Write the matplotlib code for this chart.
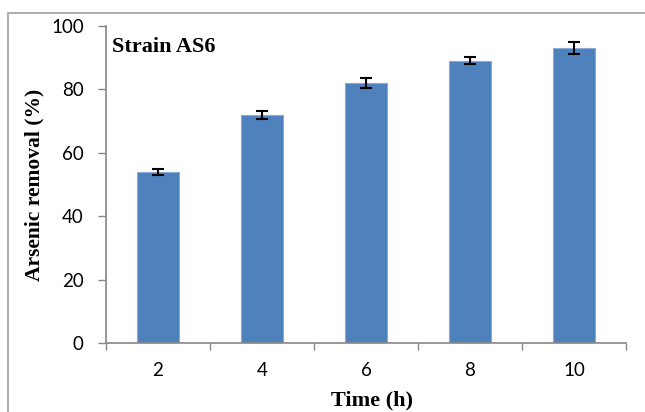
import matplotlib
matplotlib.use("Agg")
import matplotlib.pyplot as plt
from matplotlib.patches import Rectangle

categories = ["2", "4", "6", "8", "10"]
removal = [54, 72, 82, 89, 93]
errors = [1.0, 1.2, 1.5, 1.1, 1.8]
yticks = [0, 20, 40, 60, 80, 100]

fig = plt.figure(figsize=(6.45, 4.12), dpi=100)
ax = fig.add_axes([106/645, 1-343/412, (626-106)/645, (343-26)/412])

pos = list(range(len(categories)))
ax.bar(pos, removal, width=0.4, color="#4F81BD", edgecolor="#8AAAD6", linewidth=0.8, zorder=2)
ax.errorbar(pos, removal, yerr=errors, fmt="none", ecolor="black", elinewidth=1.5,
            capsize=4.5, capthick=1.5, zorder=3)

ax.set_xlim(-0.5, len(categories) - 0.5)
ax.set_ylim(0, 100)
ax.set_yticks(yticks)
ax.set_yticklabels([str(v) for v in yticks], fontfamily="Lato", fontsize=13.5)
ax.set_xticks(pos)
ax.set_xticklabels(categories, fontfamily="Lato", fontsize=13.5)
ax.set_xticks([p - 0.5 for p in pos] + [len(categories) - 0.5], minor=True)
ax.tick_params(axis="x", which="major", length=0, pad=14)
ax.tick_params(axis="x", which="minor", length=5, width=1, color="#868686")
ax.tick_params(axis="y", length=6, width=1, color="#868686", pad=10)

for s in ["top", "right"]:
    ax.spines[s].set_visible(False)
for s in ["left", "bottom"]:
    ax.spines[s].set_color("#868686")
    ax.spines[s].set_linewidth(1.2)

ax.set_ylabel("Arsenic removal (%)", fontfamily="Liberation Serif", fontweight="bold",
              fontsize=15.5, labelpad=5)
ax.set_xlabel("Time (h)", fontfamily="Liberation Serif", fontweight="bold",
              fontsize=16, labelpad=8)
ax.xaxis.label.set_x(0.512)
ax.text(0.012, 0.918, "Strain AS6", transform=ax.transAxes, fontfamily="Liberation Serif",
        fontweight="bold", fontsize=16, va="baseline", ha="left")

fig.add_artist(Rectangle((8/645, -0.05), 1.1, 1 - 13/412 + 0.05, transform=fig.transFigure,
                         fill=False, edgecolor="#A0A0A0", linewidth=1.2))

fig.savefig("out.png", dpi=100)
